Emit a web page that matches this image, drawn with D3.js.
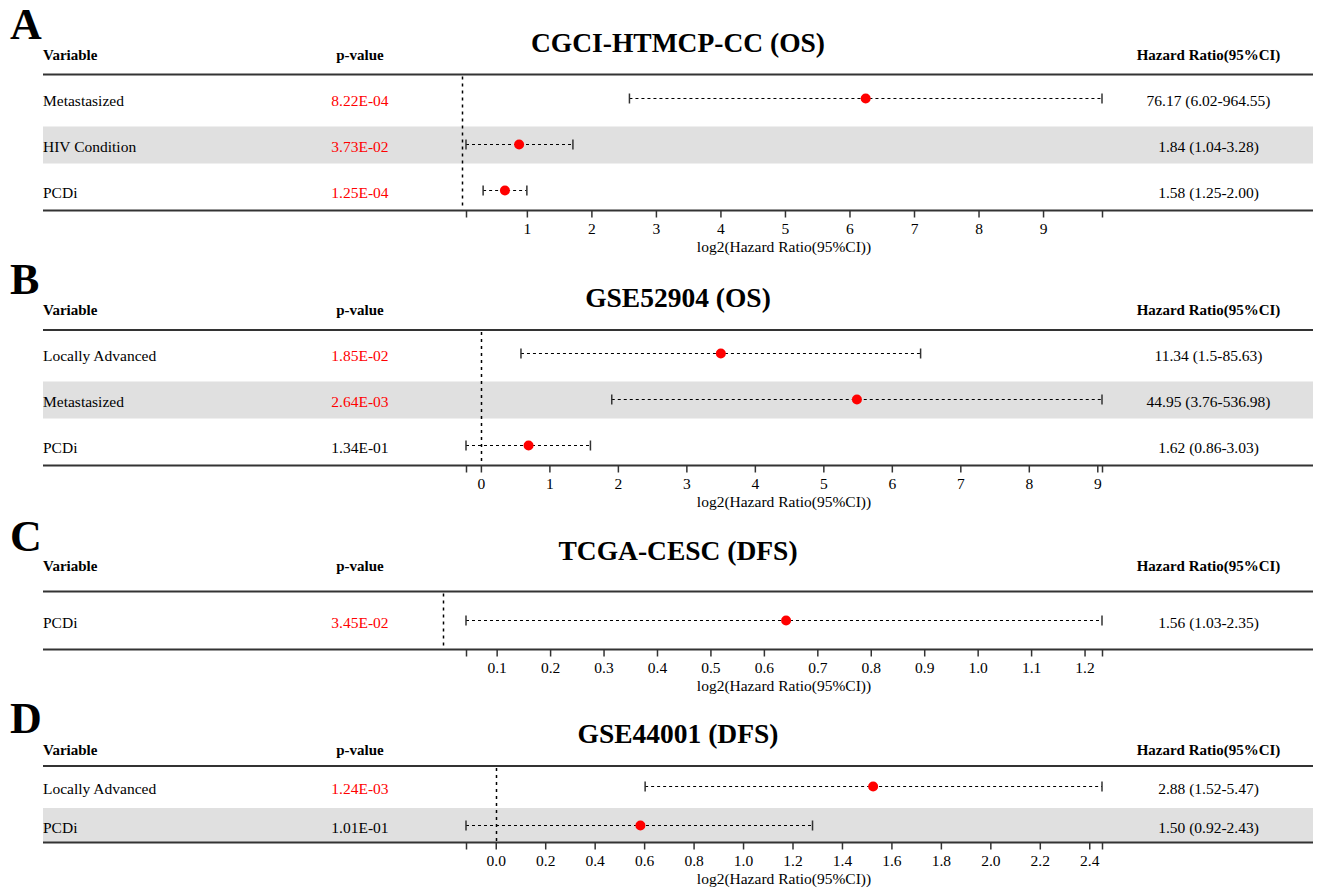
<!DOCTYPE html>
<html>
<head>
<meta charset="utf-8">
<script src="https://cdn.jsdelivr.net/npm/d3@7"></script>
<style>
  html, body { margin: 0; padding: 0; background: #fff; }
  svg { display: block; }
  svg text { font-family: "Liberation Serif", "Times New Roman", serif; }
</style>
</head>
<body>
<svg id="chart" width="1319" height="888" font-family="Liberation Serif, serif"></svg>
<script>
// ---------- DATA ----------
const panelLetters = ["A", "B", "C", "D"];
const panelTitles = ["CGCI-HTMCP-CC (OS)", "GSE52904 (OS)", "TCGA-CESC (DFS)", "GSE44001 (DFS)"];

const variablesA = ["Metastasized", "HIV Condition", "PCDi"];
const pvaluesA   = ["8.22E-04", "3.73E-02", "1.25E-04"];
const hrA        = ["76.17", "1.84", "1.58"];
const lowerA     = ["6.02", "1.04", "1.25"];
const upperA     = ["964.55", "3.28", "2.00"];
const ticksA     = [1, 2, 3, 4, 5, 6, 7, 8, 9];

const variablesB = ["Locally Advanced", "Metastasized", "PCDi"];
const pvaluesB   = ["1.85E-02", "2.64E-03", "1.34E-01"];
const hrB        = ["11.34", "44.95", "1.62"];
const lowerB     = ["1.5", "3.76", "0.86"];
const upperB     = ["85.63", "536.98", "3.03"];
const ticksB     = [0, 1, 2, 3, 4, 5, 6, 7, 8, 9];

const variablesC = ["PCDi"];
const pvaluesC   = ["3.45E-02"];
const hrC        = ["1.56"];
const lowerC     = ["1.03"];
const upperC     = ["2.35"];
const ticksC     = [0.1, 0.2, 0.3, 0.4, 0.5, 0.6, 0.7, 0.8, 0.9, 1.0, 1.1, 1.2];

const variablesD = ["Locally Advanced", "PCDi"];
const pvaluesD   = ["1.24E-03", "1.01E-01"];
const hrD        = ["2.88", "1.50"];
const lowerD     = ["1.52", "0.92"];
const upperD     = ["5.47", "2.43"];
const ticksD     = [0.0, 0.2, 0.4, 0.6, 0.8, 1.0, 1.2, 1.4, 1.6, 1.8, 2.0, 2.2, 2.4];

const tickFormats = [d3.format("d"), d3.format("d"), d3.format(".1f"), d3.format(".1f")];

const panelsData = [
  { vars: variablesA, p: pvaluesA, hr: hrA, lo: lowerA, hi: upperA, ticks: ticksA },
  { vars: variablesB, p: pvaluesB, hr: hrB, lo: lowerB, hi: upperB, ticks: ticksB },
  { vars: variablesC, p: pvaluesC, hr: hrC, lo: lowerC, hi: upperC, ticks: ticksC },
  { vars: variablesD, p: pvaluesD, hr: hrD, lo: lowerD, hi: upperD, ticks: ticksD }
];

// ---------- LAYOUT ----------
const layouts = [
  { letterY: 39,  titleY: 51.7,  headerY: 55,    topY: 74.5,  rows: [76, 214],  shadeH: 37, bottomY: 210.5 },
  { letterY: 294, titleY: 306.7, headerY: 310,   topY: 330,   rows: [331, 469], shadeH: 37, bottomY: 465.5 },
  { letterY: 551, titleY: 560,   headerY: 565.7, topY: 591.5, rows: [592, 650], shadeH: 37, bottomY: 649.5 },
  { letterY: 733, titleY: 743,   headerY: 750,   topY: 766,   rows: [767, 845], shadeH: 35, bottomY: 842.5 }
];

const tableLeft = 43, tableRight = 1313;
const plotLeft = 466, plotRight = 1102;
const pCol = 360, hrCol = 1208.5;
const RED = "#ff0000", LINE = "#333333", SHADE = "#e0e0e0";
const FONT = "Liberation Serif, Times New Roman, serif";

const svg = d3.select("#chart");
const log2 = v => Math.log2(+v);

panelsData.forEach((pd, i) => {
  const L = layouts[i];
  const g = svg.append("g").attr("font-family", FONT);

  const rows = pd.vars.map((v, j) => ({
    name: v, p: pd.p[j], hr: +pd.hr[j], lo: +pd.lo[j], hi: +pd.hi[j],
    label: `${pd.hr[j]} (${pd.lo[j]}-${pd.hi[j]})`
  }));

  const xMin = d3.min(rows, r => log2(r.lo));
  const xMax = d3.max(rows, r => log2(r.hi));
  const x = d3.scaleLinear().domain([xMin, xMax]).range([plotLeft, plotRight]);
  const y = d3.scaleBand().domain(pd.vars).range(L.rows);
  const yc = v => y(v) + y.bandwidth() / 2;
  const ym = v => Math.round(yc(v) - 1) + 0.5;

  // shading of every second row
  g.selectAll("rect.shade").data(rows.filter((r, j) => j % 2 === 1)).join("rect")
    .attr("x", tableLeft).attr("width", tableRight - tableLeft)
    .attr("y", r => yc(r.name) - L.shadeH / 2).attr("height", L.shadeH)
    .attr("fill", SHADE);

  // panel letter
  g.append("text").attr("x", 10).attr("y", L.letterY)
    .attr("font-size", 44).attr("font-weight", "bold").text(panelLetters[i]);

  // title
  g.append("text").attr("x", (tableLeft + tableRight) / 2).attr("y", L.titleY)
    .attr("text-anchor", "middle").attr("font-size", 27.5).attr("font-weight", "bold")
    .text(panelTitles[i]);

  // headers
  const hdr = g.append("g").attr("font-size", 15).attr("font-weight", "bold")
    .attr("dominant-baseline", "central");
  hdr.append("text").attr("x", tableLeft).attr("y", L.headerY).text("Variable");
  hdr.append("text").attr("x", pCol).attr("y", L.headerY).attr("text-anchor", "middle").text("p-value");
  hdr.append("text").attr("x", hrCol).attr("y", L.headerY).attr("text-anchor", "middle").text("Hazard Ratio(95%CI)");

  // table lines
  [L.topY, L.bottomY].forEach(yy => {
    g.append("line").attr("x1", tableLeft).attr("x2", tableRight)
      .attr("y1", yy).attr("y2", yy).attr("stroke", LINE).attr("stroke-width", 2);
  });

  // row texts
  const rt = g.append("g").attr("font-size", 15.5).attr("dominant-baseline", "central");
  rt.selectAll("text.var").data(rows).join("text")
    .attr("x", tableLeft).attr("y", r => yc(r.name) + 1.5).text(r => r.name);
  rt.selectAll("text.pv").data(rows).join("text")
    .attr("x", pCol).attr("y", r => yc(r.name) + 1.5).attr("text-anchor", "middle")
    .attr("fill", r => (+r.p < 0.05 ? RED : "#000")).text(r => r.p);
  rt.selectAll("text.hr").data(rows).join("text")
    .attr("x", hrCol).attr("y", r => yc(r.name) + 1.5).attr("text-anchor", "middle")
    .text(r => r.label);

  // reference line at log2(HR)=0
  const x0 = Math.round(x(0)) + 0.5;
  g.append("line").attr("x1", x0).attr("x2", x0)
    .attr("y1", L.topY + 2).attr("y2", L.bottomY - 1)
    .attr("stroke", "#000").attr("stroke-width", 1.5).attr("stroke-dasharray", "3,4");

  // CI lines
  g.selectAll("line.ci").data(rows).join("line")
    .attr("x1", r => x(log2(r.lo))).attr("x2", r => x(log2(r.hi)))
    .attr("y1", r => ym(r.name)).attr("y2", r => ym(r.name))
    .attr("stroke", "#000").attr("stroke-width", 1).attr("stroke-dasharray", "3,3");
  // caps
  ["lo", "hi"].forEach(k => {
    g.selectAll("line.cap" + k).data(rows).join("line")
      .attr("x1", r => x(log2(r[k]))).attr("x2", r => x(log2(r[k])))
      .attr("y1", r => ym(r.name) - 5).attr("y2", r => ym(r.name) + 5)
      .attr("stroke", LINE).attr("stroke-width", 1.5);
  });
  // points
  g.selectAll("circle.pt").data(rows).join("circle")
    .attr("cx", r => x(log2(r.hr))).attr("cy", r => ym(r.name)).attr("r", 5)
    .attr("fill", RED);

  // axis
  const tv = [xMin].concat(pd.ticks, [xMax]);
  const fmt = tickFormats[i];
  const axis = d3.axisBottom(x).tickValues(tv).tickSize(7).tickPadding(5)
    .tickFormat((d, k) => (k === 0 || k === tv.length - 1) ? "" : fmt(d));
  const ag = g.append("g").attr("transform", `translate(0,${L.bottomY})`).call(axis);
  ag.attr("font-family", FONT).attr("font-size", 15.5);
  ag.select(".domain").remove();
  ag.selectAll(".tick line").attr("stroke", LINE).attr("stroke-width", 1.5);
  ag.selectAll(".tick text").attr("fill", "#000");

  g.append("text").attr("x", (plotLeft + plotRight) / 2).attr("y", L.bottomY + 35.5)
    .attr("text-anchor", "middle").attr("dominant-baseline", "central").attr("font-size", 15.5)
    .text("log2(Hazard Ratio(95%CI))");
});
</script>
</body>
</html>
